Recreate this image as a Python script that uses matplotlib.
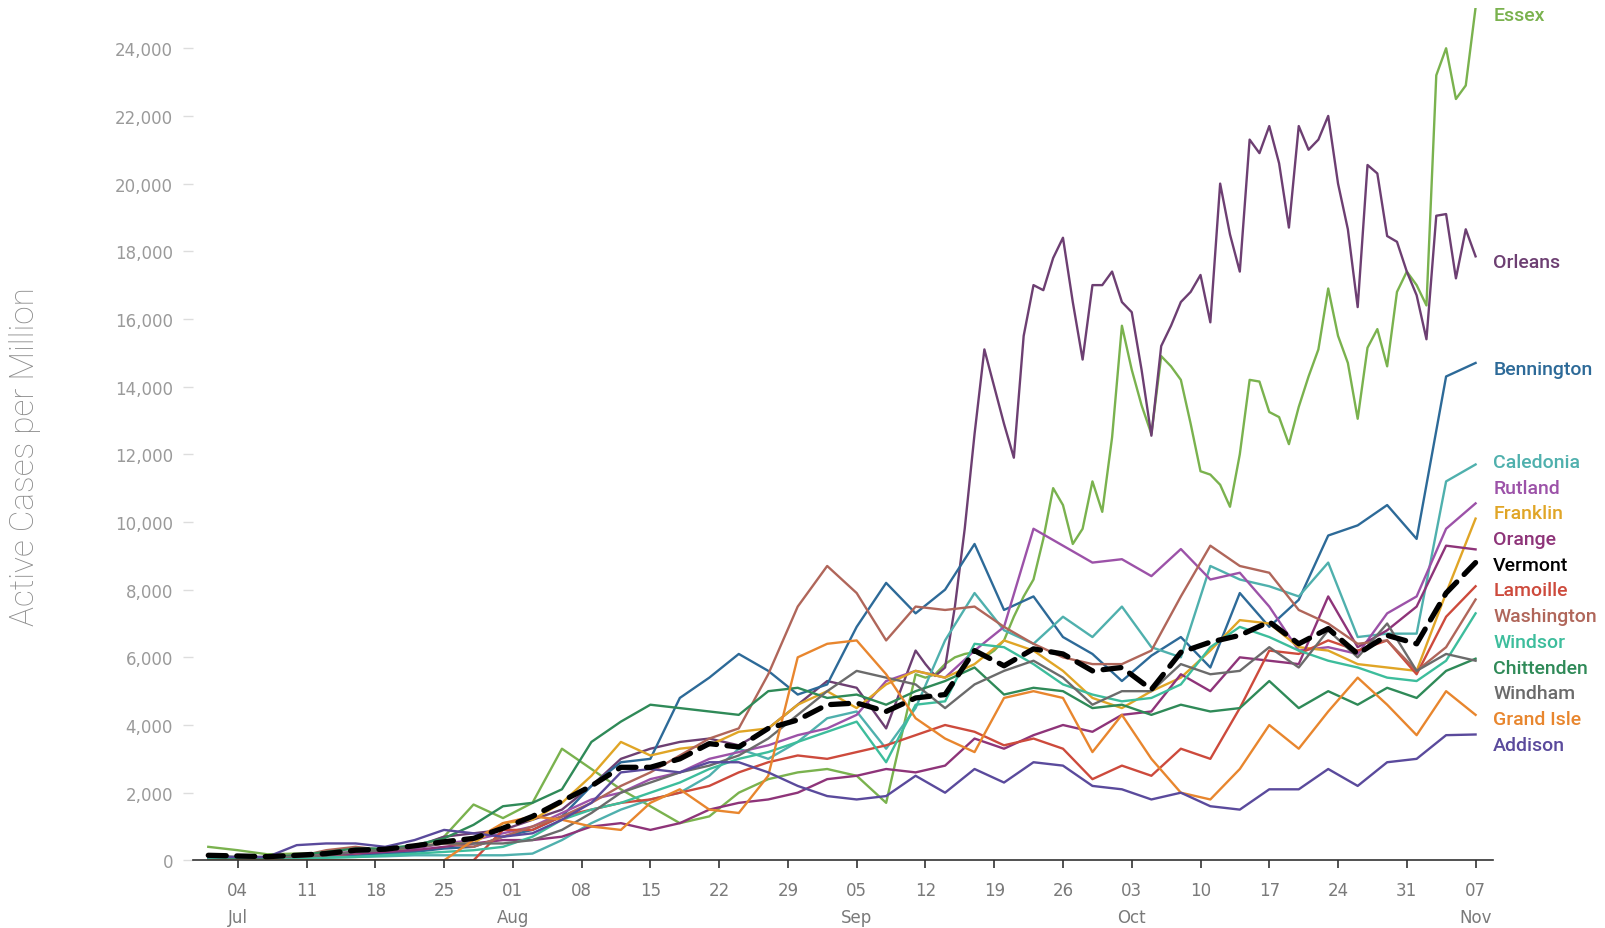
import numpy as np
import pandas as pd
import matplotlib
matplotlib.use("Agg")
import matplotlib.pyplot as plt
import matplotlib.dates as mdates

start = pd.Timestamp("2021-07-01")

# day offsets from Jul 1 (every third day), and a finer grid for the two noisy counties
days = list(range(0, 130, 3))
days_fine = list(range(0, 72, 3)) + list(range(72, 130))

vermont = [150, 130, 110, 150, 200, 300, 330, 430, 550, 650, 950, 1300, 1750, 2200, 2750,
           2750, 3000, 3450, 3350, 3900, 4150, 4600, 4650, 4400, 4800, 4900, 6200, 5750,
           6250, 6100, 5600, 5700, 5050, 6150, 6450, 6650, 7050, 6400, 6850, 6100, 6650,
           6400, 7900, 8800]

orleans = [50, 50, 50, 100, 150, 200, 250, 400, 700, 800, 900, 1200, 1500, 2200, 3000,
           3300, 3500, 3600, 3400, 3900, 4600, 5300, 5100, 3900,
           6200, 5800, 5450, 5700, 7500, 9800, 12600, 15100, 14000, 12900,
           11900, 15500, 17000, 16850, 17800, 18400, 16500, 14800, 17000, 17000,
           17400, 16500, 16200, 14500, 12550, 15200, 15800, 16500, 16800, 17300,
           15900, 20000, 18500, 17400, 21300, 20900, 21700, 20600, 18700, 21700,
           21000, 21300, 22000, 20000, 18650, 16350, 20550, 20300, 18450, 18280,
           17400, 16700, 15400, 19050, 19100, 17200, 18650, 17850]

essex = [400, 300, 180, 200, 200, 250, 300, 350, 700, 1650, 1250, 1700, 3300, 2700, 2100,
         1600, 1100, 1300, 2000, 2400, 2600, 2700, 2500, 1700,
         5500, 5400, 5500, 5800, 6000, 6100, 6150, 6000, 6200, 6500,
         7200, 7800, 8300, 9500, 11000, 10500, 9350, 9800, 11200, 10300,
         12500, 15800, 14500, 13450, 12600, 14900, 14600, 14200, 12900, 11500,
         11400, 11100, 10450, 12000, 14200, 14150, 13250, 13100, 12300, 13400,
         14300, 15100, 16900, 15500, 14700, 13050, 15150, 15700, 14600, 16800,
         17400, 17000, 16400, 23200, 24000, 22500, 22900, 25200]

bennington = [50, 50, 50, 80, 100, 150, 200, 250, 350, 400, 700, 900, 1300, 2200, 2900,
              3000, 4800, 5400, 6100, 5600, 4900, 5200, 6900, 8200, 7300, 8000, 9350, 7400,
              7800, 6600, 6100, 5300, 6050, 6600, 5700, 7900, 6900, 7700, 9600, 9900, 10500,
              9500, 14300, 14700]

caledonia = [0, 0, 0, 50, 80, 100, 120, 150, 150, 150, 150, 200, 600, 1100, 1500, 1800,
             2000, 2500, 3300, 3000, 3500, 4200, 4400, 3300, 4500, 6500, 7900, 6800, 6400,
             7200, 6600, 7500, 6300, 6000, 8700, 8300, 8100, 7800, 8800, 6600, 6700, 6700,
             11200, 11700]

rutland = [100, 80, 100, 150, 200, 250, 300, 350, 500, 600, 800, 1000, 1400, 1800, 2000,
           2400, 2600, 3000, 3200, 3400, 3700, 3900, 4300, 5300, 5600, 5400, 6200, 6900,
           9800, 9300, 8800, 8900, 8400, 9200, 8300, 8500, 7500, 6200, 6300, 6100, 7300,
           7800, 9800, 10550]

franklin = [50, 50, 80, 100, 150, 200, 300, 400, 500, 500, 1100, 1200, 1700, 2500, 3500,
            3100, 3300, 3400, 3800, 3900, 4600, 5000, 4500, 5200, 5600, 5400, 5800, 6500,
            6200, 5600, 4800, 4500, 5000, 5400, 6200, 7100, 7000, 6300, 6200, 5800, 5700,
            5600, 7900, 10100]

orange = [50, 50, 50, 100, 150, 200, 250, 300, 400, 500, 600, 600, 700, 1000, 1100, 900,
          1100, 1500, 1700, 1800, 2000, 2400, 2500, 2700, 2600, 2800, 3600, 3300, 3700,
          4000, 3800, 4300, 4400, 5500, 5000, 6000, 5900, 5800, 7800, 6300, 6800, 7500,
          9300, 9190]

lamoille = [0, 0, 0, 0, 0, 0, 0, 0, 0, 0, 900, 900, 1300, 1500, 1700, 1800, 2000, 2200,
            2600, 2900, 3100, 3000, 3200, 3400, 3700, 4000, 3800, 3400, 3600, 3300, 2400,
            2800, 2500, 3300, 3000, 4500, 6200, 6100, 6500, 6200, 6500, 5500, 7200, 8100]

washington = [0, 0, 50, 100, 300, 400, 300, 400, 500, 400, 700, 1000, 1300, 1700, 2200,
              2600, 3100, 3600, 3900, 5500, 7500, 8700, 7900, 6500, 7500, 7400, 7500, 6900,
              6400, 6000, 5800, 5800, 6200, 7800, 9300, 8700, 8500, 7400, 7000, 6400, 6500,
              5600, 6300, 7710]

windsor = [50, 50, 50, 50, 80, 100, 150, 200, 250, 300, 400, 700, 1200, 1500, 1700, 2000,
           2300, 2700, 3000, 3200, 3500, 3800, 4100, 2900, 4600, 4700, 6400, 6300, 5800,
           5200, 4900, 4700, 4800, 5200, 6300, 6900, 6600, 6200, 5900, 5700, 5400, 5300,
           5900, 7300]

chittenden = [100, 80, 80, 150, 250, 350, 350, 450, 650, 1050, 1600, 1700, 2100, 3500,
              4100, 4600, 4500, 4400, 4300, 5000, 5100, 4800, 4900, 4600, 5000, 5300, 5700,
              4900, 5100, 5000, 4500, 4600, 4300, 4600, 4400, 4500, 5300, 4500, 5000, 4600,
              5100, 4800, 5600, 5960]

windham = [150, 100, 100, 100, 150, 250, 300, 400, 500, 500, 500, 600, 900, 1400, 2000,
           2300, 2600, 2800, 3100, 3600, 4300, 5000, 5600, 5400, 5200, 4500, 5200, 5600,
           5900, 5400, 4600, 5000, 5000, 5800, 5500, 5600, 6300, 5700, 6800, 6000, 7000,
           5600, 6100, 5900]

grand_isle = [0, 0, 0, 0, 0, 0, 0, 0, 0, 600, 1100, 1300, 1200, 1000, 900, 1700, 2100,
              1500, 1400, 2500, 6000, 6400, 6500, 5500, 4200, 3600, 3200, 4800, 5000, 4800,
              3200, 4300, 3000, 2000, 1800, 2700, 4000, 3300, 4400, 5400, 4600, 3700, 5000,
              4300]

addison = [100, 100, 100, 450, 500, 500, 400, 600, 900, 800, 700, 800, 1200, 1700, 2600,
           2700, 2600, 2900, 2900, 2600, 2200, 1900, 1800, 1900, 2500, 2000, 2700, 2300,
           2900, 2800, 2200, 2100, 1800, 2000, 1600, 1500, 2100, 2100, 2700, 2200, 2900,
           3000, 3700, 3720]

series = [
    ("Essex", essex, days_fine, "#7ab24e"),
    ("Orleans", orleans, days_fine, "#6d3f72"),
    ("Bennington", bennington, days, "#2d6a98"),
    ("Caledonia", caledonia, days, "#4fb0ad"),
    ("Rutland", rutland, days, "#9c52a8"),
    ("Franklin", franklin, days, "#e0a526"),
    ("Orange", orange, days, "#8e3479"),
    ("Lamoille", lamoille, days, "#cd4a3c"),
    ("Washington", washington, days, "#b0665a"),
    ("Windsor", windsor, days, "#3dbd9c"),
    ("Chittenden", chittenden, days, "#2f8a58"),
    ("Windham", windham, days, "#6b6b6b"),
    ("Grand Isle", grand_isle, days, "#e8862e"),
    ("Addison", addison, days, "#5a4a9c"),
]


def to_dates(d):
    return start + pd.to_timedelta(d, unit="D")


def spread_labels(vals, gap, iters=300):
    pos = np.array(vals, dtype=float)
    for _ in range(iters):
        order = np.argsort(-pos)
        for a, b in zip(order[:-1], order[1:]):
            d = pos[a] - pos[b]
            if d < gap:
                s = (gap - d) / 2
                pos[a] += s
                pos[b] -= s
    return pos


fig = plt.figure(figsize=(16.06, 9.29), dpi=100)
ax = fig.add_axes([0.1199, 0.0728, 0.8099, 0.9179])

for name, vals, d, color in series:
    ax.plot(to_dates(d), vals, color=color, lw=1.7, zorder=2)
ax.plot(to_dates(days), vermont, color="black", lw=3.8, ls=(0, (3.4, 2.0)),
        dash_capstyle="round", zorder=3)

ymax = max(essex)
ax.set_ylim(0, ymax)
ax.set_xlim(to_dates(-1.6), to_dates(130.8))

# end labels
names = [s[0] for s in series] + ["Vermont"]
colors = [s[3] for s in series] + ["black"]
lasts = [s[1][-1] for s in series] + [vermont[-1]]
label_y = spread_labels(lasts, 760) - 120
label_x = mdates.date2num(to_dates(130.8))
for n, c, y in zip(names, colors, label_y):
    ax.text(label_x, min(y, ymax - 150), n, color=c, fontsize=14, family="Roboto",
            fontweight="medium", va="center_baseline", ha="left", clip_on=False)

# axes styling
for s in ["top", "right", "left"]:
    ax.spines[s].set_visible(False)
ax.spines["bottom"].set_color("#333333")
ax.spines["bottom"].set_linewidth(1.2)

yt = np.arange(0, 24001, 2000)
ax.set_yticks(yt)
ax.set_yticklabels([f"{v:,}" for v in yt], color="#9a9a9a", fontsize=12, family="DejaVu Sans")
ax.tick_params(axis="y", length=7, color="#dddddd", width=1, pad=7)

ticks = pd.date_range("2021-07-04", "2021-11-07", freq="7D")
ax.set_xticks(ticks)
ax.set_xticklabels([t.strftime("%d") for t in ticks], color="#7a7a7a", fontsize=12,
                   family="DejaVu Sans")
ax.tick_params(axis="x", length=6, color="#333333", width=1.2, pad=9)

# month names under the first tick of each month
prev_month = None
for t in ticks:
    if t.month != prev_month:
        ax.annotate(t.strftime("%b"), xy=(mdates.date2num(t), 0),
                    xycoords=("data", "axes fraction"), xytext=(0, -57),
                    textcoords="offset pixels", ha="center", va="center",
                    color="#7a7a7a", fontsize=12, family="DejaVu Sans")
        prev_month = t.month

fig.text(0.0155, 0.509, "Active Cases per Million", rotation=90, va="center", ha="center",
         fontsize=24, color="#8c8c8c", family="Roboto", fontweight="light")

fig.savefig("out.png", dpi=100)
